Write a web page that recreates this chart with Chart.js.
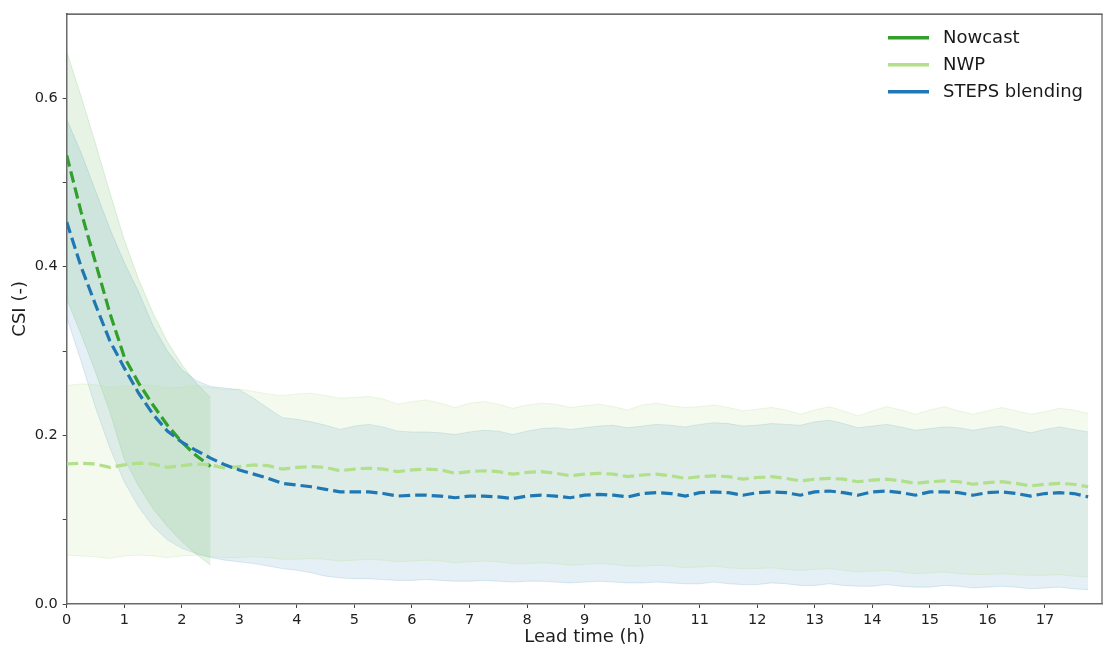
<!DOCTYPE html>
<html>
<head>
<meta charset="utf-8">
<script src="https://cdn.jsdelivr.net/npm/chart.js@4"></script>
<style>
html,body{margin:0;padding:0;background:#fff;}
#wrap{width:1104px;height:648px;position:relative;}
</style>
</head>
<body>
<div id="wrap"><canvas id="c" width="1104" height="648"></canvas></div>
<script>
// ---- data (lead time in hours, 15-min steps) ----
const leadTimes = [
 0,0.25,0.5,0.75, 1,1.25,1.5,1.75, 2,2.25,2.5,2.75, 3,3.25,3.5,3.75,
 4,4.25,4.5,4.75, 5,5.25,5.5,5.75, 6,6.25,6.5,6.75, 7,7.25,7.5,7.75,
 8,8.25,8.5,8.75, 9,9.25,9.5,9.75, 10,10.25,10.5,10.75, 11,11.25,11.5,11.75,
 12,12.25,12.5,12.75, 13,13.25,13.5,13.75, 14,14.25,14.5,14.75, 15,15.25,15.5,15.75,
 16,16.25,16.5,16.75, 17,17.25,17.5,17.75
];
const nowcastTimes = [0,0.25,0.5,0.75,1,1.25,1.5,1.75,2,2.25,2.5];

const nowcastMean  = [0.532,0.465,0.405,0.345,0.293,0.262,0.236,0.212,0.192,0.176,0.163];
const nowcastUpper = [0.655,0.602,0.546,0.488,0.432,0.385,0.345,0.311,0.284,0.262,0.245];
const nowcastLower = [0.362,0.320,0.275,0.228,0.172,0.140,0.113,0.092,0.074,0.059,0.046];

const nwpMean = [
 0.166,0.167,0.166,0.162, 0.165,0.167,0.166,0.162, 0.164,0.166,0.165,0.161, 0.163,0.165,0.164,0.160,
 0.162,0.163,0.162,0.158, 0.160,0.161,0.160,0.157, 0.159,0.160,0.159,0.155, 0.157,0.158,0.157,0.154,
 0.156,0.157,0.155,0.152, 0.154,0.155,0.154,0.151, 0.153,0.154,0.152,0.149, 0.151,0.152,0.151,0.148,
 0.150,0.151,0.149,0.146, 0.148,0.149,0.148,0.145, 0.147,0.148,0.146,0.143, 0.145,0.146,0.145,0.142,
 0.144,0.145,0.143,0.140, 0.142,0.143,0.142,0.139
];
const nwpUpper = [
 0.259,0.261,0.260,0.257, 0.258,0.260,0.259,0.256, 0.257,0.259,0.257,0.254, 0.255,0.252,0.249,0.247,
 0.249,0.250,0.247,0.244, 0.245,0.246,0.243,0.237, 0.240,0.242,0.238,0.233, 0.238,0.240,0.237,0.232,
 0.236,0.238,0.237,0.233, 0.235,0.237,0.234,0.230, 0.236,0.238,0.235,0.233, 0.234,0.236,0.233,0.229,
 0.231,0.233,0.230,0.225, 0.230,0.234,0.229,0.223, 0.229,0.234,0.230,0.225, 0.230,0.234,0.229,0.225,
 0.229,0.233,0.229,0.225, 0.228,0.232,0.230,0.226
];
const nwpLower = [
 0.058,0.057,0.056,0.054, 0.057,0.058,0.057,0.055, 0.057,0.058,0.056,0.055, 0.055,0.056,0.055,0.053,
 0.053,0.054,0.053,0.051, 0.052,0.053,0.052,0.050, 0.051,0.052,0.051,0.049, 0.050,0.051,0.050,0.048,
 0.048,0.049,0.048,0.046, 0.047,0.048,0.047,0.045, 0.045,0.046,0.045,0.043, 0.044,0.045,0.043,0.042,
 0.042,0.043,0.041,0.040, 0.041,0.042,0.040,0.038, 0.039,0.040,0.038,0.036, 0.037,0.038,0.036,0.035,
 0.035,0.036,0.035,0.034, 0.034,0.035,0.033,0.032
];

const blendMean = [
 0.453,0.400,0.355,0.312, 0.280,0.250,0.225,0.205, 0.192,0.182,0.173,0.165, 0.159,0.154,0.149,0.143,
 0.141,0.139,0.136,0.133, 0.133,0.133,0.131,0.128, 0.129,0.129,0.128,0.126, 0.128,0.128,0.127,0.125,
 0.128,0.129,0.128,0.126, 0.129,0.130,0.129,0.127, 0.131,0.132,0.131,0.128, 0.132,0.133,0.132,0.129,
 0.132,0.133,0.132,0.129, 0.133,0.134,0.132,0.129, 0.133,0.134,0.132,0.129, 0.133,0.133,0.132,0.129,
 0.132,0.133,0.131,0.128, 0.131,0.132,0.131,0.127
];
const blendUpper = [
 0.575,0.535,0.490,0.445, 0.405,0.370,0.330,0.300, 0.278,0.265,0.258,0.256, 0.254,0.244,0.232,0.221,
 0.219,0.216,0.212,0.207, 0.211,0.213,0.210,0.205, 0.204,0.204,0.203,0.201, 0.204,0.206,0.205,0.201,
 0.205,0.208,0.209,0.207, 0.209,0.211,0.212,0.209, 0.211,0.213,0.212,0.210, 0.213,0.215,0.214,0.211,
 0.212,0.214,0.213,0.212, 0.216,0.218,0.214,0.209, 0.211,0.213,0.210,0.206, 0.208,0.210,0.209,0.206,
 0.209,0.211,0.207,0.203, 0.207,0.210,0.207,0.204
];
const blendLower = [
 0.340,0.288,0.233,0.185, 0.145,0.115,0.092,0.076, 0.066,0.060,0.055,0.052, 0.050,0.048,0.045,0.042,
 0.040,0.037,0.033,0.031, 0.030,0.030,0.029,0.028, 0.028,0.029,0.028,0.027, 0.027,0.028,0.027,0.026,
 0.027,0.027,0.026,0.025, 0.026,0.027,0.026,0.025, 0.025,0.026,0.025,0.024, 0.024,0.026,0.024,0.023,
 0.023,0.025,0.024,0.022, 0.022,0.024,0.022,0.021, 0.021,0.023,0.021,0.020, 0.020,0.022,0.021,0.019,
 0.020,0.021,0.020,0.018, 0.019,0.020,0.018,0.017
];

const xTickValues = [0,1,2,3,4,5,6,7,8,9,10,11,12,13,14,15,16,17];
const xTickLabels = ['0','1','2','3','4','5','6','7','8','9','10','11','12','13','14','15','16','17'];
const yTickValues = [0,0.1,0.2,0.3,0.4,0.5,0.6];
const yTickLabels = ['0.0','','0.2','','0.4','','0.6'];
const legendLabels = ['Nowcast','NWP','STEPS blending'];

// ---- styles ----
const C_NOW = '#33a02c', C_NWP = '#b2df8a', C_BLEND = '#1f78b4';
const FONT = '"DejaVu Sans", "Liberation Sans", sans-serif';

function pts(xs, ys){ return ys.map((v,i)=>({x:xs[i], y:v})); }

function band(data, fillColor, edgeColor, fillTo){
  return {data, borderColor: edgeColor, borderWidth: 1, pointRadius: 0,
          backgroundColor: fillColor, fill: fillTo, tension: 0, order: 5};
}
function meanLine(data, color, ord){
  return {data, borderColor: color, borderWidth: 3.2, borderDash: [11.5, 5],
          pointRadius: 0, fill: false, tension: 0, order: ord};
}

const datasets = [
  band(pts(leadTimes, nwpUpper), 'rgba(178,223,138,0.15)', 'rgba(178,223,138,0.25)', '+1'),
  band(pts(leadTimes, nwpLower), 'rgba(178,223,138,0.15)', 'rgba(178,223,138,0.25)', false),
  band(pts(nowcastTimes, nowcastUpper), 'rgba(51,160,44,0.12)', 'rgba(51,160,44,0.14)', '+1'),
  band(pts(nowcastTimes, nowcastLower), 'rgba(51,160,44,0.12)', 'rgba(51,160,44,0.14)', false),
  band(pts(leadTimes, blendUpper), 'rgba(31,120,180,0.12)', 'rgba(31,120,180,0.14)', '+1'),
  band(pts(leadTimes, blendLower), 'rgba(31,120,180,0.12)', 'rgba(31,120,180,0.14)', false),
  meanLine(pts(nowcastTimes, nowcastMean), C_NOW, 2),
  meanLine(pts(leadTimes, nwpMean), C_NWP, 1),
  meanLine(pts(leadTimes, blendMean), C_BLEND, 0)
];

const legendColors = [C_NOW, C_NWP, C_BLEND];

const framePlugin = {
  id: 'frame',
  afterDraw(chart){
    const {ctx, chartArea: a} = chart;
    ctx.save();
    ctx.lineWidth = 1.3;
    ctx.strokeStyle = '#3a3a3a';
    ctx.beginPath(); ctx.moveTo(a.left, a.top+0.5); ctx.lineTo(a.right, a.top+0.5); ctx.stroke();
    ctx.strokeStyle = '#6a6a6a';
    ctx.beginPath(); ctx.moveTo(a.right-0.5, a.top); ctx.lineTo(a.right-0.5, a.bottom); ctx.stroke();
    // legend
    ctx.font = '18px ' + FONT;
    ctx.textBaseline = 'middle';
    ctx.textAlign = 'left';
    legendLabels.forEach((lab, i) => {
      const y = a.top + 24 + i*27;
      ctx.strokeStyle = legendColors[i];
      ctx.lineWidth = 3.5;
      ctx.setLineDash([]);
      ctx.beginPath(); ctx.moveTo(a.right - 214.5, y); ctx.lineTo(a.right - 173.5, y); ctx.stroke();
      ctx.fillStyle = '#1a1a1a';
      ctx.fillText(lab, a.right - 159.5, y + 0.5);
    });
    ctx.restore();
  }
};

new Chart(document.getElementById('c'), {
  type: 'line',
  data: { datasets },
  plugins: [framePlugin],
  options: {
    responsive: false,
    animation: false,
    devicePixelRatio: 1,
    layout: { padding: { left: 0, right: 1.5, top: 11, bottom: 0 } },
    plugins: { legend: { display: false }, tooltip: { enabled: false } },
    scales: {
      x: {
        type: 'linear', min: 0, max: 18,
        afterBuildTicks: s => { s.ticks = xTickValues.map(v => ({value: v})); },
        afterFit: s => { s.height = 44; },
        ticks: {
          callback: (v, i) => xTickLabels[i],
          font: { family: FONT, size: 14.5 }, color: '#1e1e1e', padding: 4, maxRotation: 0, autoSkip: false
        },
        grid: { display: true, drawOnChartArea: false, drawTicks: true, tickLength: 4, color: '#444', tickWidth: 1 },
        border: { display: true, color: '#6a6a6a', width: 1.5 },
        title: { display: true, text: 'Lead time (h)', font: { family: FONT, size: 18 }, color: '#1e1e1e', padding: { top: 0, bottom: 0 } }
      },
      y: {
        type: 'linear', min: 0, max: 0.7,
        afterBuildTicks: s => { s.ticks = yTickValues.map(v => ({value: v})); },
        afterFit: s => { s.width = 66.7; },
        ticks: {
          callback: (v, i) => yTickLabels[i],
          font: { family: FONT, size: 14.5 }, color: '#1e1e1e', padding: 5, autoSkip: false
        },
        grid: { display: true, drawOnChartArea: false, drawTicks: true, tickLength: 4, color: '#444', tickWidth: 1 },
        border: { display: true, color: '#6a6a6a', width: 1.5 },
        title: { display: true, text: 'CSI (-)', font: { family: FONT, size: 18 }, color: '#1e1e1e', padding: { top: 9.7, bottom: 0 } }
      }
    }
  }
});
</script>
</body>
</html>
